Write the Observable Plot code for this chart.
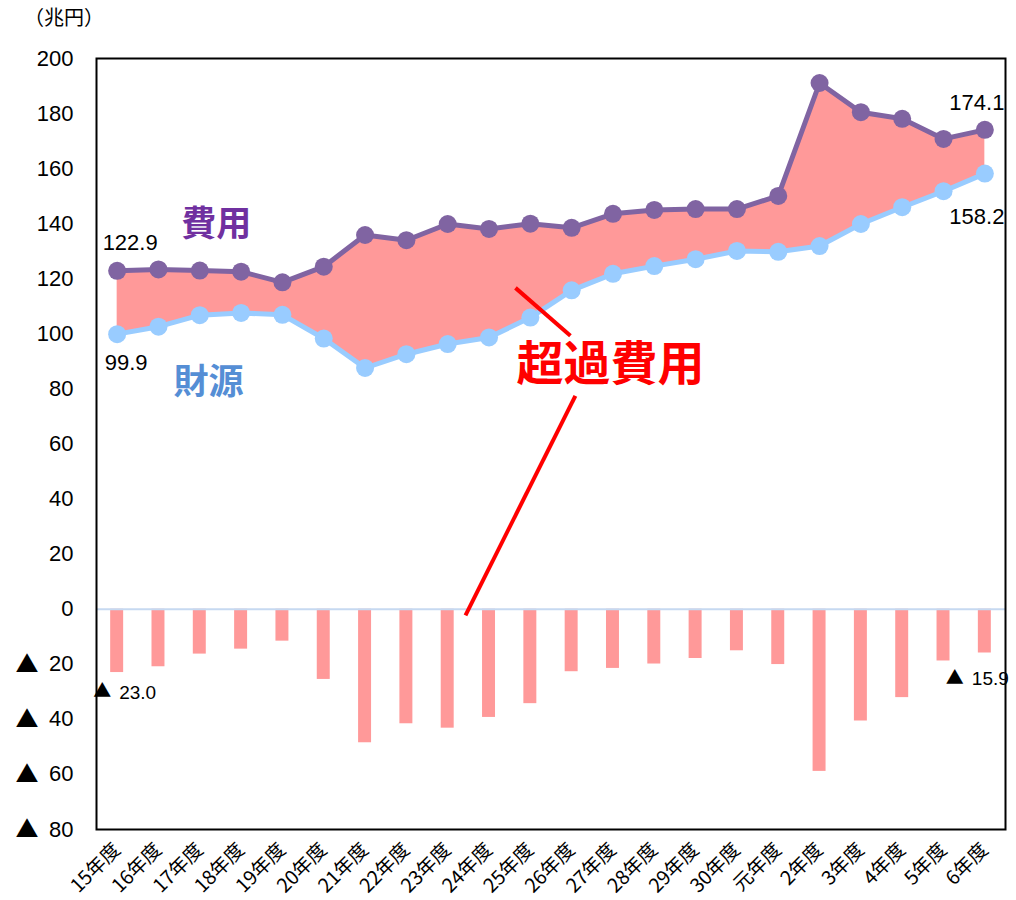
<!DOCTYPE html>
<html>
<head>
<meta charset="utf-8">
<script src="https://cdn.jsdelivr.net/npm/d3@7"></script>
<script src="https://cdn.jsdelivr.net/npm/@observablehq/plot@0.6"></script>
<style>
  html, body { margin: 0; padding: 0; background: #fff; }
  #wrap { position: relative; width: 1016px; height: 900px; }
  #unit { position: absolute; left: 24px; top: 3px; font-family: "Noto Sans CJK JP", sans-serif; font-size: 20px; line-height: 28px; color: #000; }
</style>
</head>
<body>
<div id="wrap"><div id="unit">（兆円）</div></div>
<script>
// ---- data ----
const years = ["15年度","16年度","17年度","18年度","19年度","20年度","21年度","22年度","23年度","24年度","25年度","26年度","27年度","28年度","29年度","30年度","元年度","2年度","3年度","4年度","5年度","6年度"];
const cost    = [122.9, 123.4, 123.0, 122.6, 118.7, 124.4, 135.9, 134.0, 139.9, 138.1, 140.0, 138.5, 143.6, 145.0, 145.3, 145.3, 150.1, 191.1, 180.5, 178.1, 170.8, 174.1];
const revenue = [ 99.9, 102.6, 106.8, 107.6, 106.9,  98.3,  87.6,  92.6,  96.3,  98.7, 105.9, 115.8, 121.8, 124.6, 127.1, 130.1, 129.8, 131.9, 139.9, 146.0, 151.8, 158.2];
const excess  = [-23.0, -20.9, -16.3, -14.5, -11.6, -25.5, -48.5, -41.6, -43.2, -39.3, -34.3, -22.7, -21.5, -19.9, -17.9, -15.1, -20.1, -58.9, -40.6, -32.1, -18.8, -15.9];
const yTicks  = [-80, -60, -40, -20, 0, 20, 40, 60, 80, 100, 120, 140, 160, 180, 200];
const seriesNames = ["費用", "財源"];
const excessName = "超過費用";
const negMark = "▲";

const data = years.map((year, i) => ({i, year, cost: cost[i], revenue: revenue[i], excess: excess[i]}));
const first = data[0], last = data[data.length - 1];

const purple = "#8064a2", lightBlue = "#99ccff", pink = "#ff9999", red = "#ff0000";
const latin = "'Liberation Sans', Arial, sans-serif";
const jp = "'Noto Sans CJK JP', sans-serif";
const barHalf = 0.157;

const chart = Plot.plot({
  width: 1016,
  height: 900,
  marginTop: 58,
  marginBottom: 71,
  marginLeft: 96,
  marginRight: 11,
  style: {fontFamily: latin, background: "#fff", color: "#000", overflow: "visible"},
  x: {type: "linear", domain: [-0.5, years.length - 0.5]},
  y: {domain: [-80, 200]},
  marks: [
    Plot.areaY(data, {x: "i", y1: "revenue", y2: "cost", fill: pink}),
    Plot.rectY(data, {x1: d => d.i - barHalf, x2: d => d.i + barHalf, y1: 0, y2: "excess", fill: pink}),
    Plot.ruleY([0], {stroke: "#c6d9f1", strokeWidth: 2}),
    Plot.line(data, {x: "i", y: "cost", stroke: purple, strokeWidth: 5}),
    Plot.dot(data, {x: "i", y: "cost", r: 9, fill: purple}),
    Plot.line(data, {x: "i", y: "revenue", stroke: lightBlue, strokeWidth: 5}),
    Plot.dot(data, {x: "i", y: "revenue", r: 9, fill: lightBlue}),
    // end value labels
    Plot.text([first], {x: "i", y: "cost", text: d => d.cost.toFixed(1), dx: 13, dy: -28, fontSize: 22, fontFamily: latin}),
    Plot.text([first], {x: "i", y: "revenue", text: d => d.revenue.toFixed(1), dx: 9, dy: 29, fontSize: 22, fontFamily: latin}),
    Plot.text([last], {x: "i", y: "cost", text: d => d.cost.toFixed(1), dx: -8, dy: -27, fontSize: 22, fontFamily: latin}),
    Plot.text([last], {x: "i", y: "revenue", text: d => d.revenue.toFixed(1), dx: -8, dy: 43, fontSize: 22, fontFamily: latin}),
    Plot.text([first], {x: "i", y: "excess", text: d => (-d.excess).toFixed(1), textAnchor: "start", dx: 2, dy: 20, fontSize: 19, fontFamily: latin}),
    Plot.text([first], {x: "i", y: "excess", text: () => negMark, textAnchor: "end", dx: -6, dy: 19, fontSize: 18, fontFamily: jp}),
    Plot.text([last], {x: "i", y: "excess", text: d => (-d.excess).toFixed(1), textAnchor: "start", dx: -13, dy: 26, fontSize: 19, fontFamily: latin}),
    Plot.text([last], {x: "i", y: "excess", text: () => negMark, textAnchor: "end", dx: -21, dy: 25, fontSize: 18, fontFamily: jp}),
    // series annotations
    Plot.text([{x: 2.40, y: 139.6, t: seriesNames[0]}], {x: "x", y: "y", text: "t", fill: "#7030a0", fontSize: 35, fontWeight: "bold", fontFamily: jp}),
    Plot.text([{x: 2.21, y: 82.2, t: seriesNames[1]}], {x: "x", y: "y", text: "t", fill: "#558ed5", fontSize: 35, fontWeight: "bold", fontFamily: jp}),
    Plot.text([{x: 11.94, y: 88.7, t: excessName}], {x: "x", y: "y", text: "t", fill: red, fontSize: 47, fontWeight: "bold", fontFamily: jp}),
    Plot.link([{x1: 9.64, y1: 116.7, x2: 10.97, y2: 99.3}, {x1: 11.09, y1: 77.5, x2: 8.43, y2: -2.2}],
      {x1: "x1", y1: "y1", x2: "x2", y2: "y2", stroke: red, strokeWidth: 4}),
    // axes
    Plot.axisY({ticks: yTicks, tickFormat: d => String(Math.abs(d)), tickSize: 0, tickPadding: 23, fontSize: 22, fontFamily: latin}),
    Plot.axisY({ticks: yTicks.filter(d => d < 0), tickFormat: () => negMark, tickSize: 0, tickPadding: 58, fontSize: 23, fontFamily: jp}),
    Plot.axisX({ticks: years.map((_, i) => i), tickFormat: i => years[i], tickSize: 0, tickPadding: 17, tickRotate: -45, fontSize: 19.5, fontFamily: jp, label: null}),
    Plot.frame({stroke: "#000", strokeWidth: 2})
  ]
});
document.getElementById("wrap").appendChild(chart);
</script>
</body>
</html>
